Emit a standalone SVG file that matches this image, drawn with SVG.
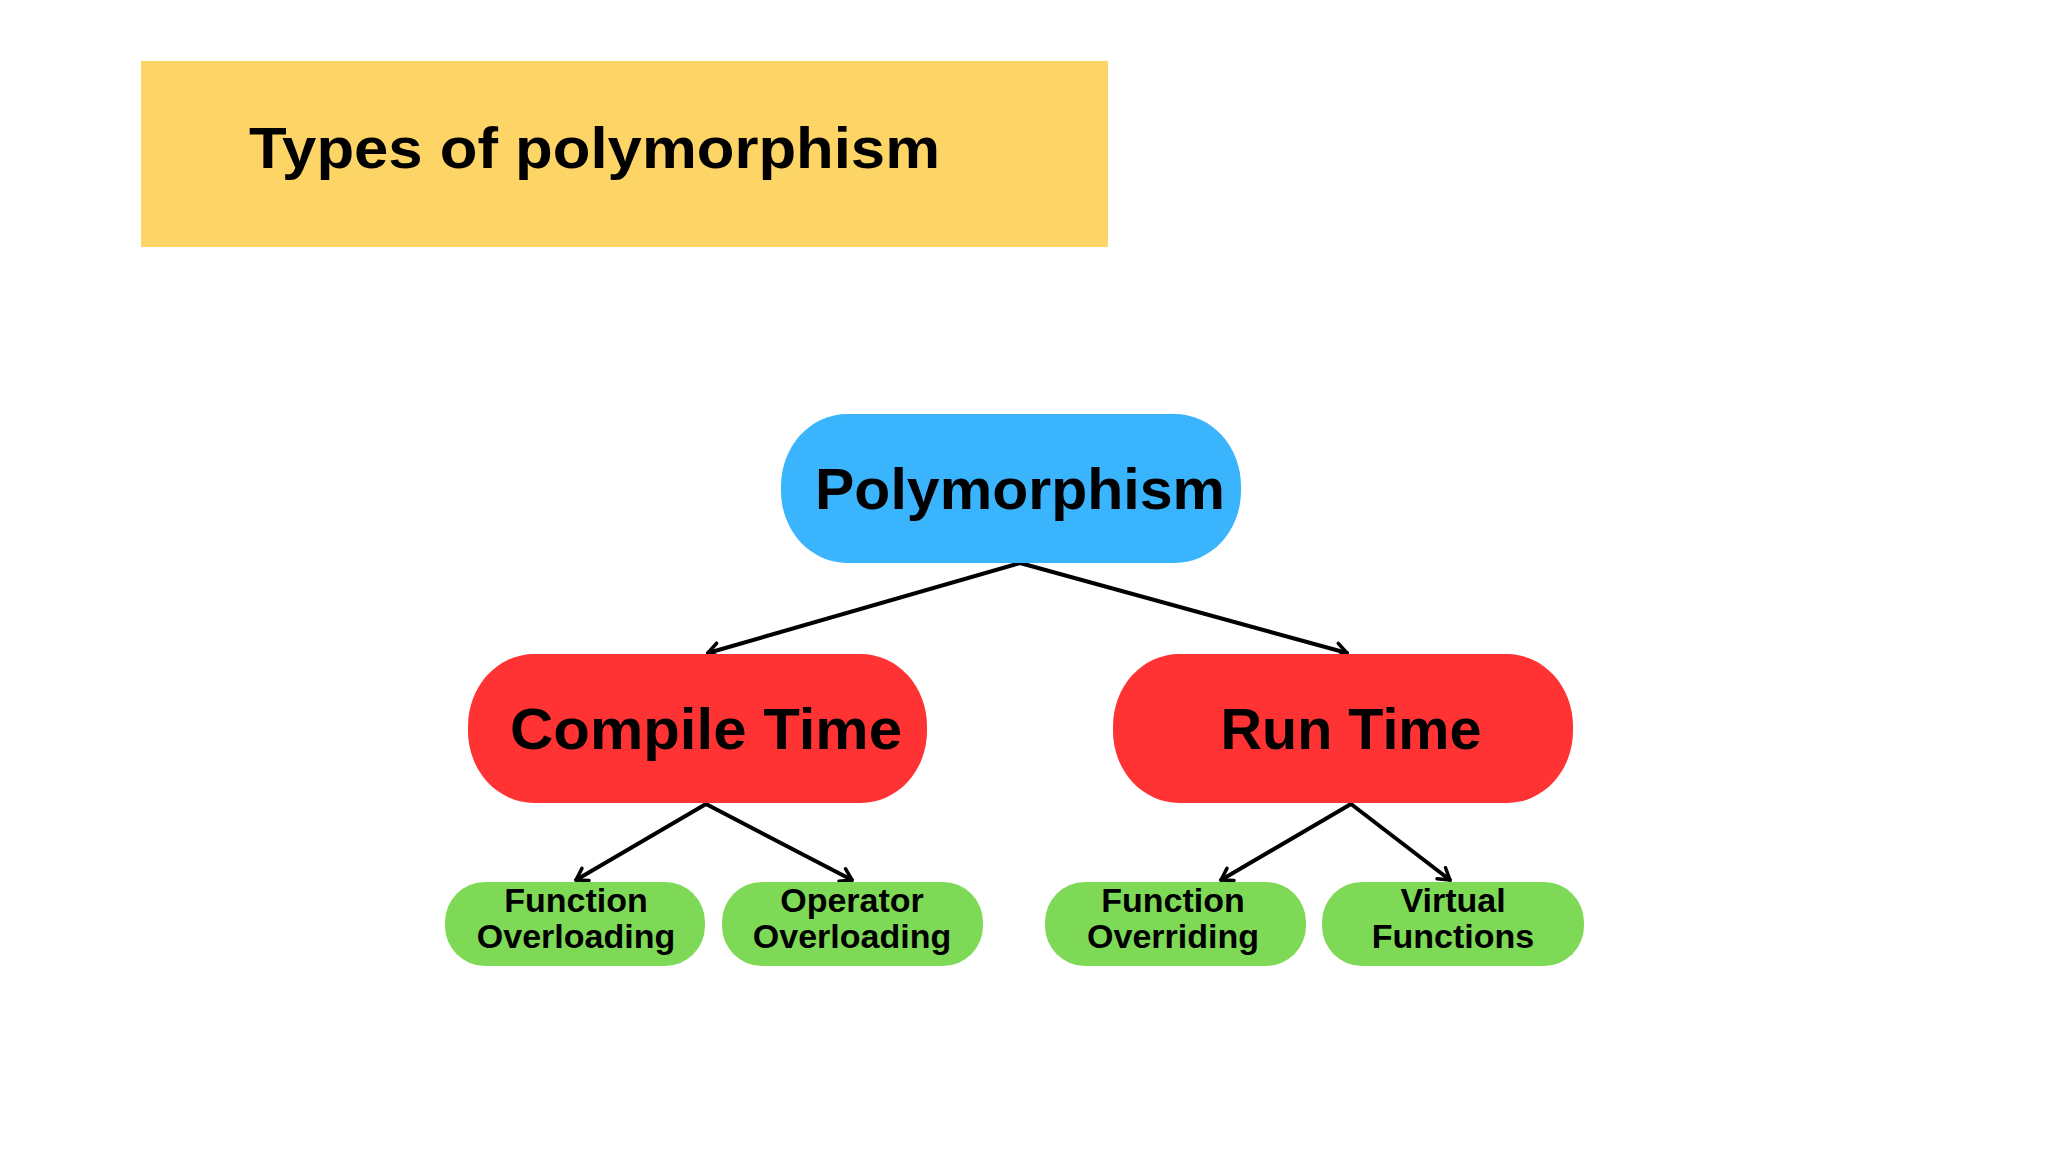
<svg xmlns="http://www.w3.org/2000/svg" width="2048" height="1152" viewBox="0 0 2048 1152">
  <defs>
    <style>
      .lbl { font-family: "Liberation Sans", Arial, sans-serif; font-weight: bold; fill: #000; text-anchor: middle; }
      .big { font-size: 58px; }
      .small { font-size: 34px; }
      .edge { stroke: #000; stroke-width: 4; fill: none; stroke-linecap: round; marker-end: url(#arrow); }
    </style>
    <marker id="arrow" markerUnits="userSpaceOnUse" markerWidth="20" markerHeight="20" viewBox="-14 -10 16 20" refX="0" refY="0" orient="auto">
      <path d="M -11 -7 L 0 0 L -11 7" fill="none" stroke="#000" stroke-width="3.5" stroke-linecap="round" stroke-linejoin="round"/>
    </marker>
  </defs>
  <rect width="2048" height="1152" fill="#ffffff"/>

  <g id="title">
    <rect x="141" y="61" width="967" height="186" fill="#FDD567"/>
    <text x="249" y="168" font-family="'Liberation Sans', Arial, sans-serif" font-weight="bold" font-size="58" textLength="691" lengthAdjust="spacingAndGlyphs">Types of polymorphism</text>
  </g>

  <g id="connectors">
    <line class="edge" x1="1020" y1="563" x2="708" y2="653"/>
    <line class="edge" x1="1020" y1="563" x2="1347" y2="653"/>
    <line class="edge" x1="706" y1="804" x2="576" y2="880"/>
    <line class="edge" x1="706" y1="804" x2="852" y2="880"/>
    <line class="edge" x1="1351" y1="804" x2="1221" y2="880"/>
    <line class="edge" x1="1351" y1="804" x2="1450" y2="880"/>
  </g>

  <g id="polymorphism">
    <rect x="781" y="414" width="460" height="149" rx="66" ry="72" fill="#3AB4FC"/>
    <text class="lbl big" x="1020" y="509" textLength="410" lengthAdjust="spacingAndGlyphs">Polymorphism</text>
  </g>

  <g id="compile-time">
    <rect x="468" y="654" width="459" height="149" rx="66" ry="72" fill="#FF3333"/>
    <text class="lbl big" x="706" y="749" textLength="392" lengthAdjust="spacingAndGlyphs">Compile Time</text>
  </g>

  <g id="run-time">
    <rect x="1113" y="654" width="460" height="149" rx="66" ry="72" fill="#FF3333"/>
    <text class="lbl big" x="1351" y="749" textLength="261" lengthAdjust="spacingAndGlyphs">Run Time</text>
  </g>

  <g id="function-overloading">
    <rect x="445" y="882" width="260" height="84" rx="40" ry="40" fill="#7ED957"/>
    <text class="lbl small" x="576" y="912">Function</text>
    <text class="lbl small" x="576" y="948">Overloading</text>
  </g>

  <g id="operator-overloading">
    <rect x="722" y="882" width="261" height="84" rx="40" ry="40" fill="#7ED957"/>
    <text class="lbl small" x="852" y="912">Operator</text>
    <text class="lbl small" x="852" y="948">Overloading</text>
  </g>

  <g id="function-overriding">
    <rect x="1045" y="882" width="261" height="84" rx="40" ry="40" fill="#7ED957"/>
    <text class="lbl small" x="1173" y="912">Function</text>
    <text class="lbl small" x="1173" y="948">Overriding</text>
  </g>

  <g id="virtual-functions">
    <rect x="1322" y="882" width="262" height="84" rx="40" ry="40" fill="#7ED957"/>
    <text class="lbl small" x="1453" y="912">Virtual</text>
    <text class="lbl small" x="1453" y="948">Functions</text>
  </g>
</svg>
